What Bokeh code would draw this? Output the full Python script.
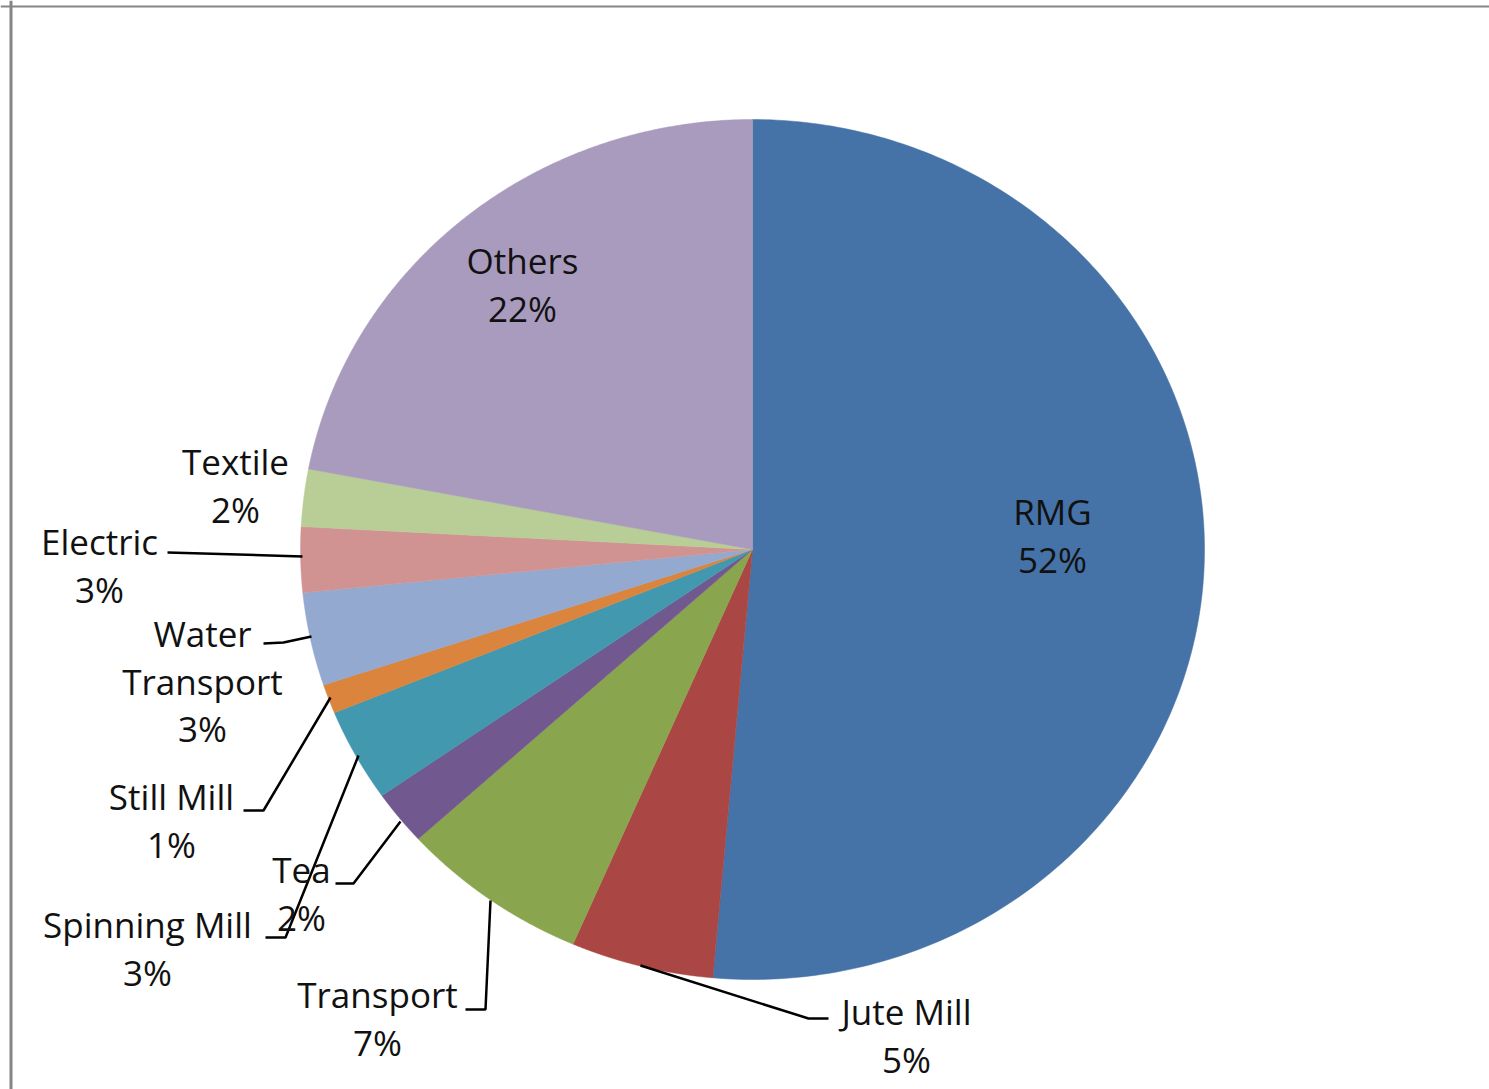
import numpy as np
from bokeh.plotting import figure
from bokeh.models import Range1d, Span, ColumnDataSource
from bokeh.embed import file_html
from bokeh.resources import INLINE
from bokeh.core.properties import value

# ---------------- data ----------------
categories = ["RMG", "Jute Mill", "Transport", "Tea", "Spinning Mill",
              "Still Mill", "Water\nTransport", "Electric", "Textile", "Others"]
shares = [51.4, 5.1, 6.75, 2.05, 3.5, 1.1, 3.5, 2.45, 2.15, 22.0]
pct_labels = ["52%", "5%", "7%", "2%", "3%", "1%", "3%", "3%", "2%", "22%"]

# ---------------- style / layout ----------------
colors = ["#4572A7", "#AA4643", "#89A54E", "#71588F", "#4198AF",
          "#DB843D", "#93A9CF", "#D19392", "#B9CD96", "#A99BBD"]
W, H = 1489, 1089
CX, CY, RX, RY = 752, 549, 452, 430
FONT = "Open Sans"
FONT_SIZE = "35px"
LINE_GAP = 47.5
TEXT_DY = -14
# label anchor: (x centre, baseline of first line)
label_pos = [(1052, 525), (906, 1025), (377, 1008), (301, 883), (147, 938),
             (171, 810), (202, 647), (99, 555), (235, 475), (522, 274)]
# leader lines (label end -> slice)
leaders = [
    None,
    [(828, 1018), (808, 1018), (640, 965)],
    [(465, 1009), (485, 1009), (490, 900)],
    [(335, 883), (353, 883), (400, 821)],
    [(265, 937), (285, 937), (358, 755)],
    [(243, 810), (263, 810), (330, 697)],
    [(263, 643), (283, 642), (311, 636)],
    [(167, 552), (302, 556)],
    None,
    None,
]

p = figure(width=W, height=H, output_backend="svg", toolbar_location=None,
           x_range=Range1d(0, W), y_range=Range1d(H, 0),
           min_border=0)
p.axis.visible = False
p.grid.visible = False
p.outline_line_color = None
p.background_fill_color = "white"

# frame (left and top edges of the chart area)
p.add_layout(Span(location=10.5, dimension="height", line_color="#858585", line_width=3))
p.add_layout(Span(location=6, dimension="width", line_color="#858585", line_width=2))

# slices as elliptical wedges, clockwise from 12 o'clock
total = float(sum(shares))
cum = np.concatenate([[0.0], np.cumsum(shares)]) / total * 2 * np.pi
xs, ys = [], []
for i in range(len(shares)):
    t = np.linspace(cum[i], cum[i + 1], 240)
    xs.append([CX] + list(CX + RX * np.sin(t)) + [CX])
    ys.append([CY] + list(CY - RY * np.cos(t)) + [CY])
p.patches(xs, ys, fill_color=colors, line_color=colors, line_width=0.5)

# leader lines
lx, ly = [], []
for ld in leaders:
    if ld:
        lx.append([a for a, b in ld])
        ly.append([b for a, b in ld])
p.multi_line(lx, ly, line_color="black", line_width=2.5)

# labels
tx, ty, tt = [], [], []
for cat, pct, (x0, y0) in zip(categories, pct_labels, label_pos):
    lines = cat.split("\n") + [pct]
    for k, s in enumerate(lines):
        tx.append(x0)
        ty.append(y0 + TEXT_DY + k * LINE_GAP)
        tt.append(s)
src = ColumnDataSource(dict(x=tx, y=ty, text=tt))
p.text("x", "y", text="text", source=src, text_align="center",
       text_baseline="alphabetic", text_font=value(FONT),
       text_font_size=FONT_SIZE, text_color="#111111")

open("out.html", "w").write(file_html(p, INLINE))
